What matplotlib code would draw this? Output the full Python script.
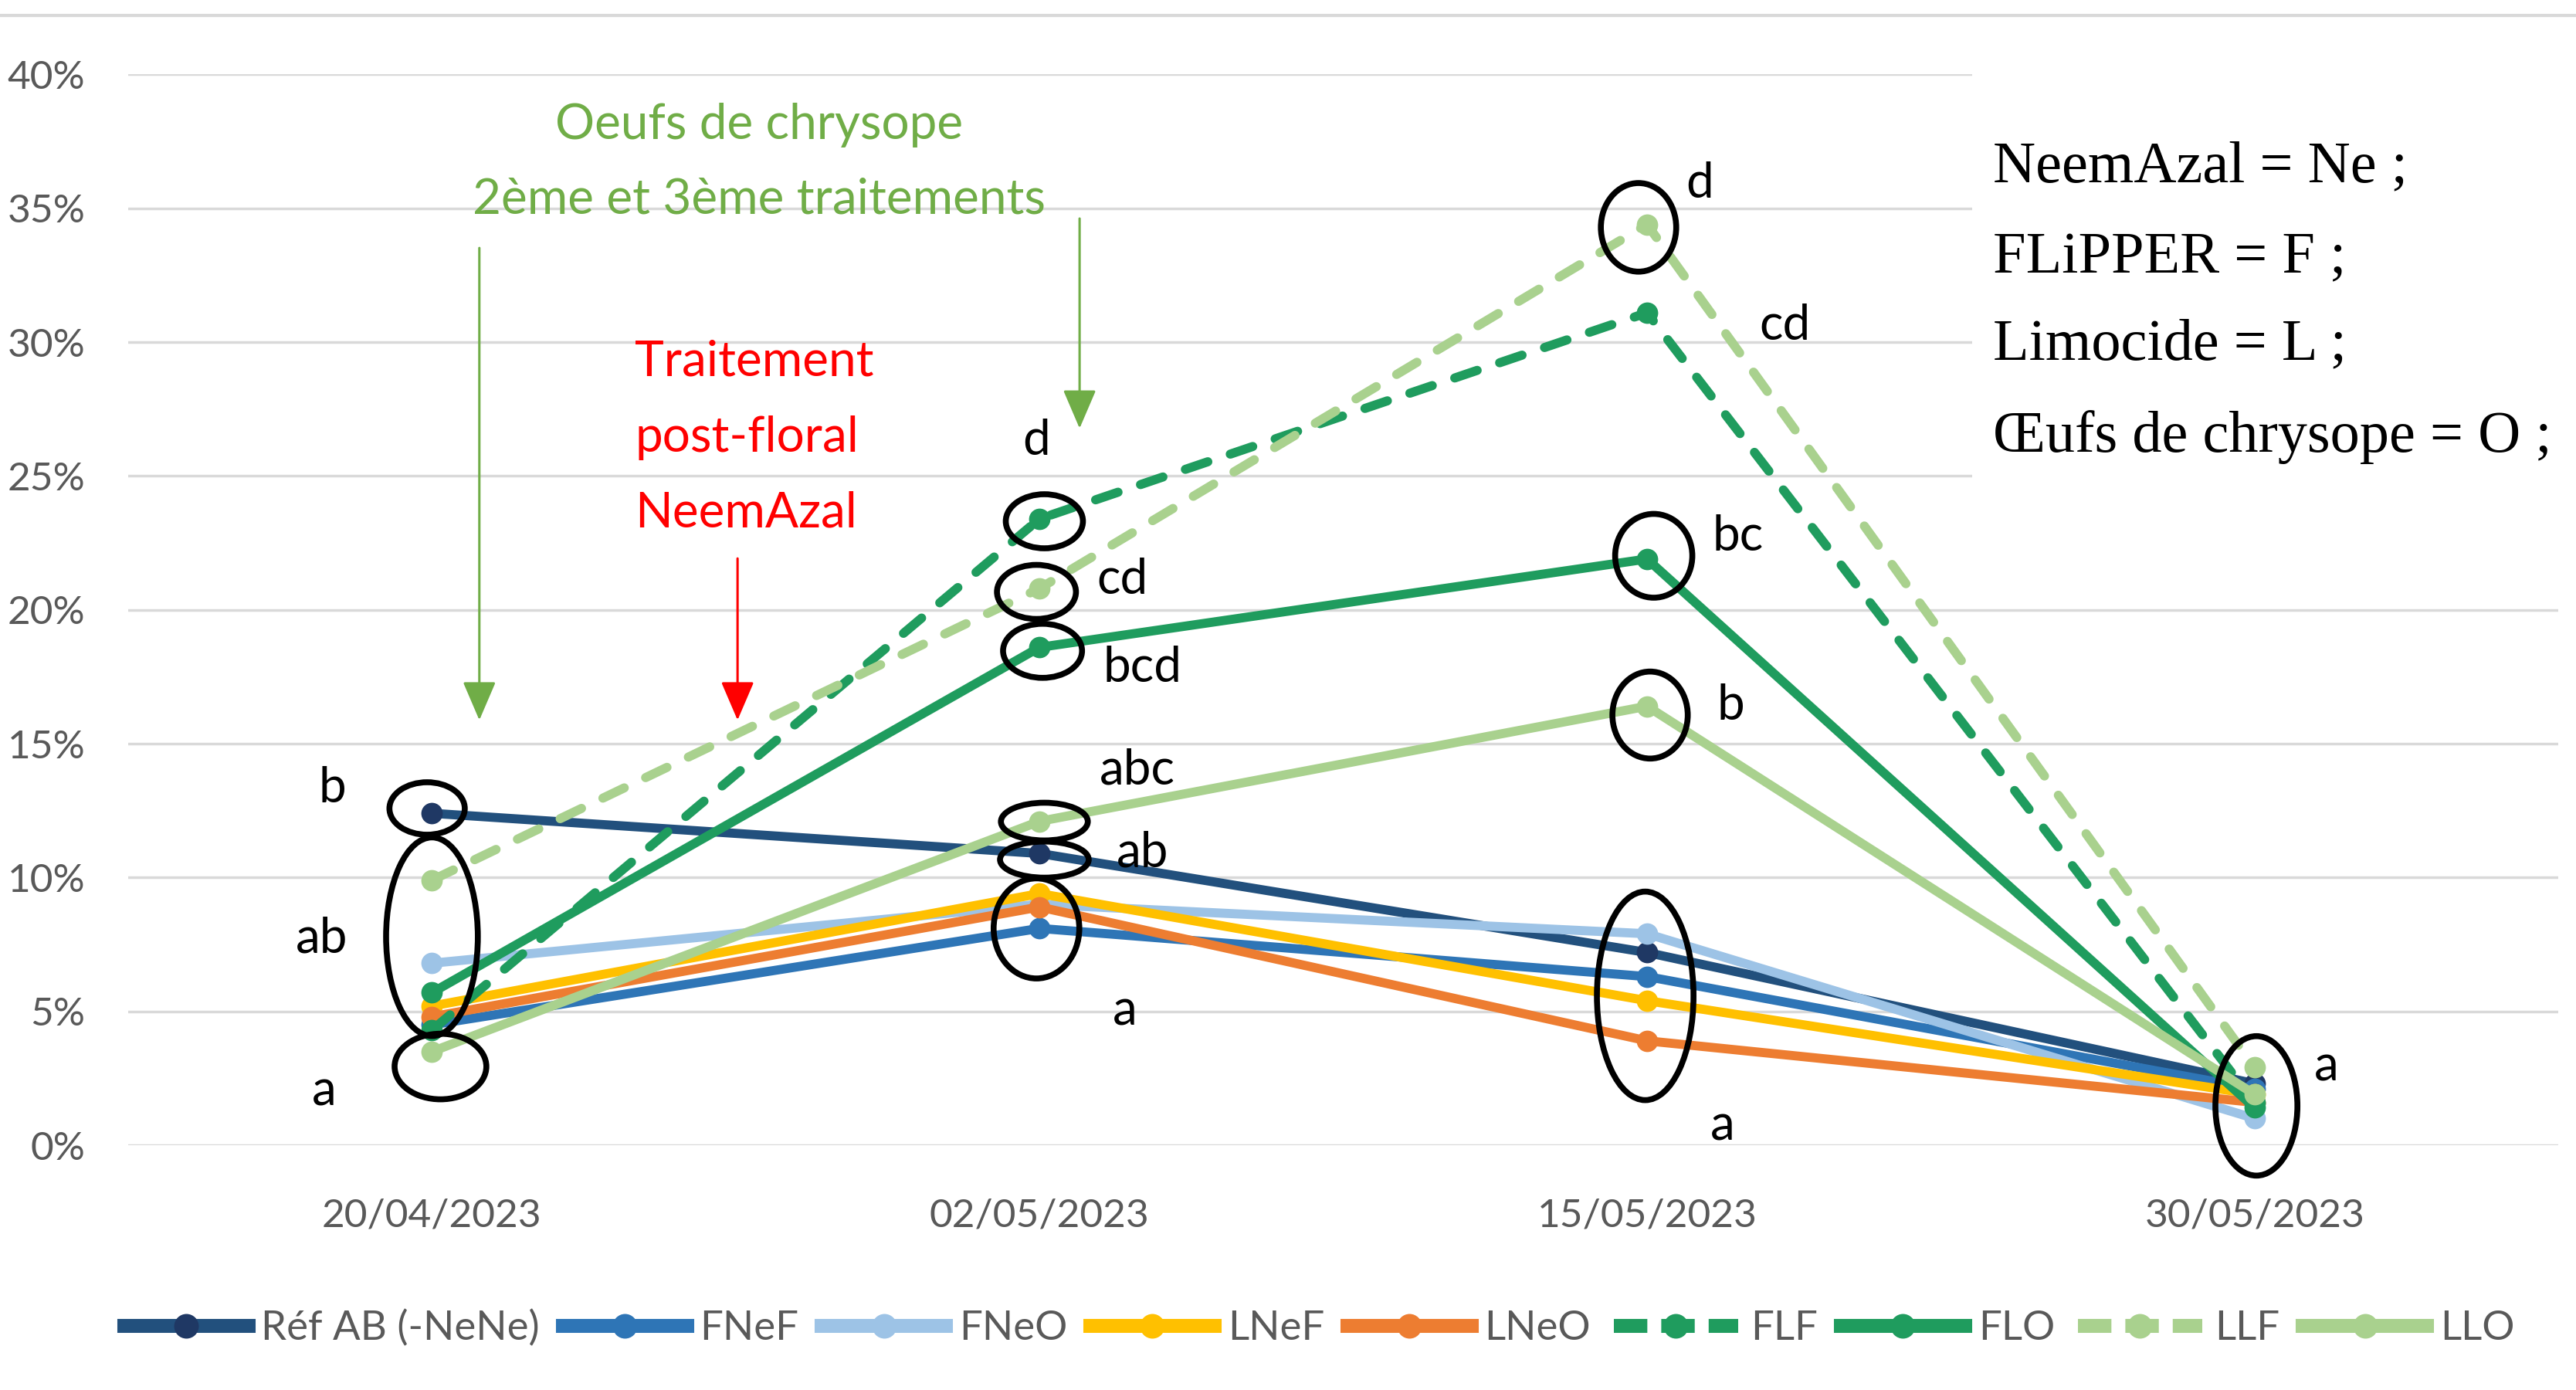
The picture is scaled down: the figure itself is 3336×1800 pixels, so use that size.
import matplotlib
matplotlib.use('Agg')
import matplotlib.pyplot as plt
from matplotlib.patches import Ellipse, Rectangle
from matplotlib.lines import Line2D

plt.rcParams['font.family'] = ['Lato', 'DejaVu Sans']

# ---- data (values in %) ----
dates = ['20/04/2023', '02/05/2023', '15/05/2023', '30/05/2023']

ref_ab = [12.4, 10.9, 7.2, 2.3]
fnef = [4.5, 8.1, 6.3, 2.1]
fneo = [6.8, 9.0, 7.9, 1.0]
lnef = [5.2, 9.4, 5.4, 1.9]
lneo = [4.8, 8.9, 3.9, 1.6]
flf = [4.3, 23.4, 31.1, 1.6]
flo = [5.7, 18.6, 21.9, 1.4]
llf = [9.9, 20.8, 34.4, 2.9]
llo = [3.5, 12.1, 16.4, 1.9]

names = ['Réf AB (-NeNe)', 'FNeF', 'FNeO', 'LNeF', 'LNeO', 'FLF', 'FLO', 'LLF', 'LLO']
series = [ref_ab, fnef, fneo, lnef, lneo, flf, flo, llf, llo]
colors = ['#22507D', '#2E75B6', '#9DC3E6', '#FFC000', '#ED7D31',
          '#1F9C5E', '#1F9C5E', '#A9D18E', '#A9D18E']
mcolors = ['#1F3864', '#2E75B6', '#9DC3E6', '#FFC000', '#ED7D31',
           '#1F9C5E', '#1F9C5E', '#A9D18E', '#A9D18E']
dashed = [False, False, False, False, False, True, False, True, False]

# significance letters: (text, x position, baseline in %)
letters = [('b', -0.164, 12.8), ('ab', -0.182, 7.2), ('a', -0.177, 1.5),
           ('d', 0.995, 25.8), ('cd', 1.136, 20.6), ('bcd', 1.169, 17.3),
           ('abc', 1.161, 13.5), ('ab', 1.169, 10.4), ('a', 1.141, 4.5),
           ('d', 2.086, 35.4), ('cd', 2.227, 30.1), ('bc', 2.15, 22.2),
           ('b', 2.138, 15.9), ('a', 2.124, 0.2), ('a', 3.118, 2.4)]

# ellipses around groups: (x, y, width, height)
ellipses = [(-0.008, 12.58, 0.124, 1.96), (0.0, 7.79, 0.151, 7.42), (0.014, 2.94, 0.151, 2.45),
            (1.008, 23.31, 0.127, 2.02), (0.995, 20.67, 0.130, 2.02), (1.005, 18.47, 0.130, 2.02),
            (1.008, 12.09, 0.143, 1.41), (1.008, 10.67, 0.146, 1.35), (0.995, 8.10, 0.141, 3.74),
            (1.986, 34.29, 0.124, 3.31), (2.011, 22.02, 0.127, 3.13), (2.005, 16.07, 0.124, 3.25),
            (1.997, 5.58, 0.159, 7.79),
            (3.003, 1.47, 0.135, 5.21)]

abbrev = ['NeemAzal = Ne ;', 'FLiPPER = F ;', 'Limocide = L ;', 'Œufs de chrysope = O ;']

fig = plt.figure(figsize=(33.37, 18), dpi=100)
ax = fig.add_axes([0.04975, 0.1761, 0.9431, 0.7703])

x = list(range(len(dates)))
for vals, name, c, mc, d in zip(series, names, colors, mcolors, dashed):
    line, = ax.plot(x, vals, color=c, lw=8.5, marker='o', ms=20, mfc=mc, mec=mc,
                    mew=0, solid_joinstyle='round', solid_capstyle='round',
                    label=name, zorder=3)
    if d:
        line.set_dashes((2.6, 2.6))
        line.set_dash_capstyle('round')

for ex, ey, ew, eh in ellipses:
    ax.add_patch(Ellipse((ex, ey), ew, eh, fill=False, ec='black', lw=5.5,
                         zorder=5, clip_on=False))

for t, lx, ly in letters:
    ax.text(lx, ly, t, fontsize=46, ha='center', va='baseline', color='black', zorder=6)

# annotations
green = '#70AD47'
ax.text(0.538, 37.6, 'Oeufs de chrysope', fontsize=46, color=green, ha='center', va='baseline')
ax.text(0.538, 34.8, '2ème et 3ème traitements', fontsize=46, color=green, ha='center', va='baseline')
for i, t in enumerate(['Traitement', 'post-floral', 'NeemAzal']):
    ax.text(0.334, [28.74, 25.92, 23.08][i], t, fontsize=46, color='#FF0000',
            ha='left', va='baseline')

arrow_style = '-|>,head_length=1.05,head_width=0.45'
ax.annotate('', xy=(0.078, 15.8), xytext=(0.078, 33.6),
            arrowprops=dict(arrowstyle=arrow_style, color=green, lw=2.2, mutation_scale=30))
ax.annotate('', xy=(1.066, 26.7), xytext=(1.066, 34.7),
            arrowprops=dict(arrowstyle=arrow_style, color=green, lw=2.2, mutation_scale=30))
ax.annotate('', xy=(0.503, 15.8), xytext=(0.503, 22.0),
            arrowprops=dict(arrowstyle=arrow_style, color='#FF0000', lw=2.2, mutation_scale=30))

# white text box on the right
ax.add_patch(Rectangle((2.535, 22.5), 1.0, 19, facecolor='white', edgecolor='none',
                       zorder=1, clip_on=False))
for t, yy in zip(abbrev, [35.98, 32.59, 29.35, 25.92]):
    ax.text(2.57, yy, t, fontsize=55, family='Liberation Serif', color='black',
            ha='left', va='baseline', zorder=6)

# axes styling
ax.set_xlim(-0.5, 3.5)
ax.set_ylim(0, 40)
ax.set_yticks(range(0, 41, 5))
ax.set_yticklabels([f'{v}%' for v in range(0, 41, 5)])
ax.set_xticks(x)
ax.set_xticklabels(dates)
ax.tick_params(axis='both', length=0, labelsize=37, labelcolor='#595959')
ax.tick_params(axis='y', pad=40)
ax.tick_params(axis='x', pad=49)
ax.grid(axis='y', color='#D9D9D9', lw=2.5)
ax.set_axisbelow(True)
for s in ax.spines.values():
    s.set_visible(False)

# top border line
fig.add_artist(Line2D([0, 1], [0.9889, 0.9889], transform=fig.transFigure,
                      color='#D9D9D9', lw=3))

# legend
handles = []
for name, c, mc, d in zip(names, colors, mcolors, dashed):
    h = Line2D([], [], color=c, lw=13, marker='o', ms=23, mfc=mc, mec=mc, mew=0)
    if d:
        h.set_dashes((2.4, 1.0))
    handles.append(h)
fig.legend(handles, names, loc='center', bbox_to_anchor=(0.512, 0.0444), ncol=9,
           frameon=False, fontsize=38, labelcolor='#595959', handlelength=3.05,
           handletextpad=0.32, columnspacing=0.56, borderaxespad=0)

fig.savefig('out.png', dpi=100)
